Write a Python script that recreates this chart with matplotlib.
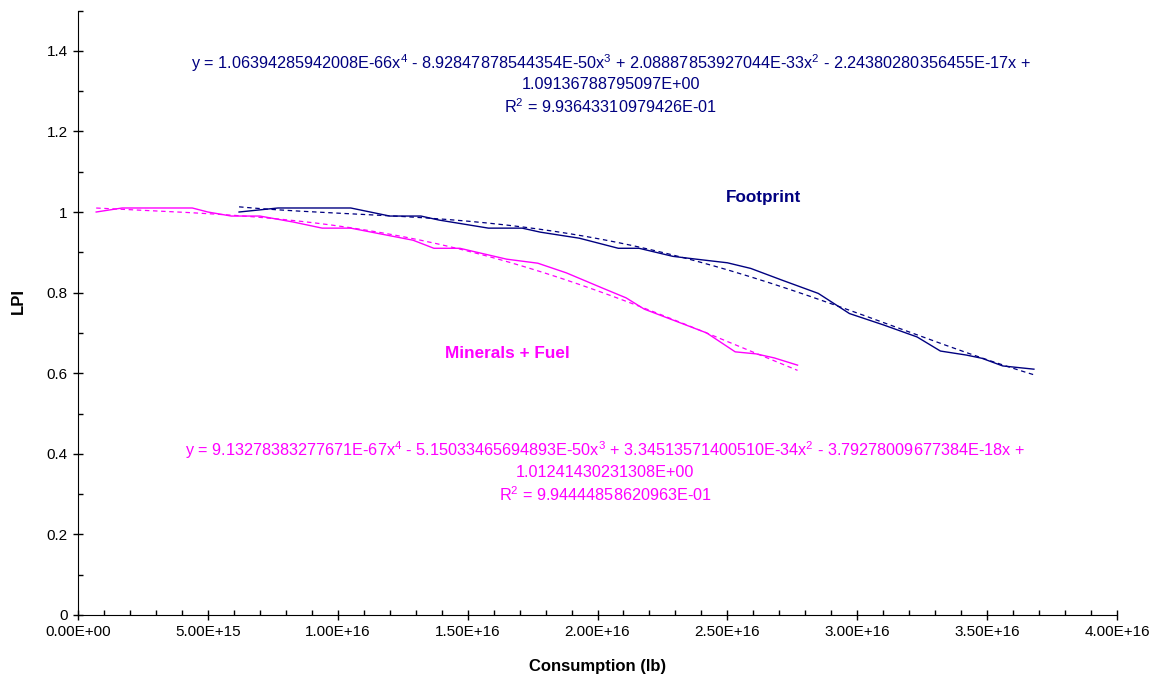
import numpy as np
import matplotlib
matplotlib.use("Agg")
import matplotlib.pyplot as plt
from matplotlib.ticker import MultipleLocator, FuncFormatter

plt.rcParams['font.family'] = ['Liberation Sans', 'DejaVu Sans']
plt.rcParams['mathtext.fontset'] = 'custom'
plt.rcParams['mathtext.rm'] = 'Liberation Sans'
plt.rcParams['mathtext.it'] = 'Liberation Sans'

navy = '#000080'
magenta = '#FF00FF'

# consumption (1E16 lb) and LPI for each series
footprint_x = [0.62, 0.77, 1.05, 1.20, 1.32, 1.39, 1.58, 1.71, 1.78, 1.93, 2.08, 2.16,
               2.29, 2.38, 2.50, 2.59, 2.71, 2.85, 2.91, 2.97, 3.10, 3.23, 3.32, 3.42,
               3.48, 3.56, 3.68]
footprint_y = [1.00, 1.01, 1.01, 0.99, 0.99, 0.98, 0.96, 0.96, 0.95, 0.935, 0.91, 0.91,
               0.89, 0.883, 0.874, 0.86, 0.831, 0.798, 0.773, 0.748, 0.72, 0.69, 0.655, 0.645,
               0.637, 0.618, 0.61]

minerals_x = [0.07, 0.17, 0.44, 0.50, 0.59, 0.70, 0.83, 0.94, 1.05, 1.21, 1.29, 1.37,
              1.47, 1.65, 1.77, 1.88, 2.02, 2.11, 2.18, 2.29, 2.42, 2.53, 2.61, 2.68, 2.77]
minerals_y = [1.00, 1.01, 1.01, 1.00, 0.99, 0.99, 0.975, 0.96, 0.96, 0.94, 0.93, 0.91,
              0.91, 0.883, 0.873, 0.849, 0.811, 0.787, 0.759, 0.732, 0.70, 0.653, 0.648, 0.638, 0.62]

# 4th order trend coefficients (x^4 ... x^0)
footprint_fit = [1.06394285942008E-66, -8.92847878544354E-50, 2.08887853927044E-33,
                 -2.24380280356455E-17, 1.09136788795097E+00]
footprint_r2 = 9.93643310979426E-01
minerals_fit = [9.13278383277671E-67, -5.15033465694893E-50, 3.34513571400510E-34,
                -3.79278009677384E-18, 1.01241430231308E+00]
minerals_r2 = 9.94444858620963E-01


def sci(v):
    m, e = ('%.14E' % v).split('E')
    e = int(e)
    return '%sE%s%02d' % (m, '-' if e < 0 else '+', abs(e))


def eq_text(c, r2):
    line1 = 'y = %sx$^4$' % sci(c[0])
    pows = ['x$^3$', 'x$^2$', 'x']
    for v, p in zip(c[1:4], pows):
        line1 += ' %s %s%s' % ('-' if v < 0 else '+', sci(abs(v)), p)
    line1 += ' +'
    return line1, sci(c[4]), 'R$^2$ = ' + sci(r2)


fig = plt.figure(figsize=(11.59, 6.84), dpi=100)
ax = fig.add_axes([0.0673, 0.1009, 0.8965, 0.8837])

fx = np.array(footprint_x) * 1e16
mx = np.array(minerals_x) * 1e16

ax.plot(fx, footprint_y, color=navy, lw=1.0)
ax.plot(mx, minerals_y, color=magenta, lw=1.0)

# trend lines drawn from the fitted polynomials over each series' range
tf = np.linspace(fx[0], fx[-1], 200)
tm = np.linspace(mx[0], mx[-1], 200)
ax.plot(tf, np.polyval(footprint_fit, tf), color=navy, lw=0.9, ls=(0, (3.6, 2.9)))
ax.plot(tm, np.polyval(minerals_fit, tm), color=magenta, lw=0.9, ls=(0, (3.6, 2.9)))

ax.set_xlim(0, 4e16)
ax.set_ylim(0, 1.5)
ax.spines['top'].set_visible(False)
ax.spines['right'].set_visible(False)
ax.xaxis.set_major_locator(MultipleLocator(5e15))
ax.xaxis.set_minor_locator(MultipleLocator(1e15))
ax.yaxis.set_minor_locator(MultipleLocator(0.1))
ax.set_yticks([0, 0.2, 0.4, 0.6, 0.8, 1.0, 1.2, 1.4])
ax.xaxis.set_major_formatter(FuncFormatter(lambda v, p: '%.2E' % v))
ax.yaxis.set_major_formatter(FuncFormatter(lambda v, p: '%g' % round(v, 1)))
ax.tick_params(which='major', direction='inout', length=7, width=1, labelsize=11, pad=4)
ax.tick_params(which='minor', direction='in', length=3.5, width=1)

ax.set_xlabel('Consumption (lb)', fontsize=12, fontweight='bold')
ax.xaxis.set_label_coords(0.5, -0.072)
ax.set_ylabel('LPI', fontsize=12, fontweight='bold')
ax.yaxis.set_label_coords(-0.05, 0.52)

for i, s in enumerate(eq_text(footprint_fit, footprint_r2)):
    ax.text(2.05e16, 1.370 - 0.0546 * i, s, color=navy, fontsize=11.7,
            ha='center', va='center')
for i, s in enumerate(eq_text(minerals_fit, minerals_r2)):
    ax.text(2.03e16, 0.409 - 0.0546 * i, s, color=magenta, fontsize=11.7,
            ha='center', va='center')

ax.text(2.64e16, 1.037, 'Footprint', color=navy, fontsize=12.3, fontweight='bold',
        ha='center', va='center')
ax.text(1.652e16, 0.65, 'Minerals + Fuel', color=magenta, fontsize=12.3,
        fontweight='bold', ha='center', va='center')

fig.savefig('out.png', dpi=100)
